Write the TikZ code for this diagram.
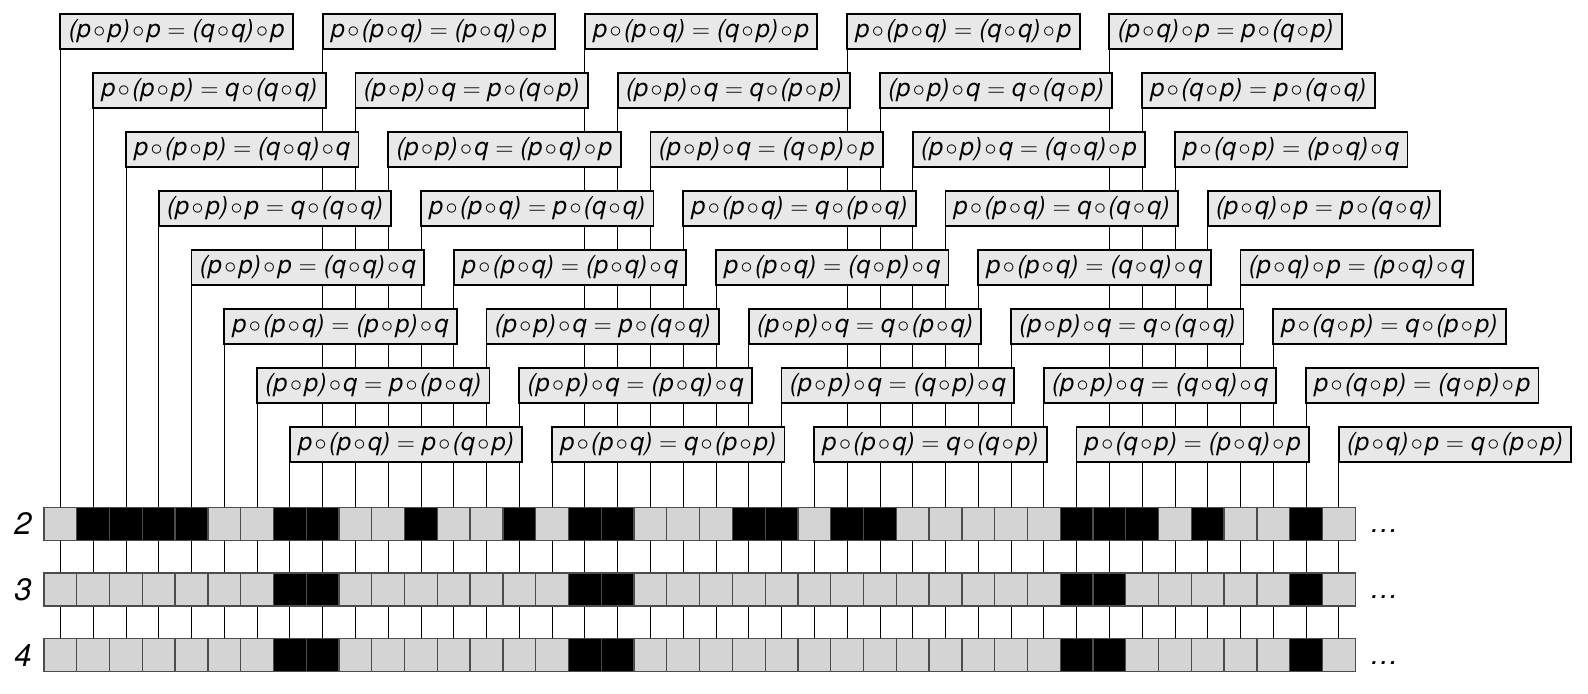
\documentclass[tikz,border=0pt]{standalone}
\usepackage{fontspec}
\setmainfont{TeX Gyre Heros}
\usetikzlibrary{backgrounds}
\tikzset{
  cellnode/.style={rectangle, draw=black!70, line width=0.65pt, minimum width=16.39pt, minimum height=16.5pt, inner sep=0pt, outer sep=0pt},
  lawnode/.style={rectangle, draw, line width=0.9pt, fill=black!9, anchor=north west, minimum height=17.5pt, inner xsep=4.2pt, inner ysep=0pt, outer sep=0pt, font=\fontsize{12.4}{14}\selectfont\itshape},
  rownode/.style={font=\fontsize{15.5}{18}\selectfont\itshape},
  dotsnode/.style={anchor=base west, inner sep=0pt, font=\fontsize{14}{16}\selectfont\itshape}
}
\newcommand{\comp}{\kern0.1em$\circ$\kern0.1em}
% 1 = black cell
\def\rowtwo{{0,1,1,1,1,0,0,1,1,0, 0,1,0,0,1,0,1,1,0,0, 0,1,1,0,1,1,0,0,0,0, 0,1,1,1,0,1,0,0,1,0}}
\def\rowthree{{0,0,0,0,0,0,0,1,1,0, 0,0,0,0,0,0,1,1,0,0, 0,0,0,0,0,0,0,0,0,0, 0,1,1,0,0,0,0,0,1,0}}

\begin{document}
\begin{tikzpicture}[x=0.5pt, y=-0.5pt]
\useasboundingbox (0,0) rectangle (1588,694);

% cells
\foreach \n/\y/\pat in {2/523.8/\rowtwo, 3/589.5/\rowthree, 4/655.2/\rowthree} {
  \node[rownode] (n\n) at (23,\y) {\n};
  \foreach \k in {0,...,39} {
    \pgfmathsetmacro\shade{17+83*\pat[\k]}
    \node[cellnode, fill=black!\shade] (r\n-\k) at ({60.39+32.78*\k},\y) {};
  }
  \node[dotsnode] (d\n) at (1370,{\y+9}) {\ldots};
}

% labels
\foreach \txt [count=\k from 0] in {
  {(p\comp p)\comp p $=$ (q\comp q)\comp p},
  {p\comp (p\comp p) $=$ q\comp (q\comp q)},
  {p\comp (p\comp p) $=$ (q\comp q)\comp q},
  {(p\comp p)\comp p $=$ q\comp (q\comp q)},
  {(p\comp p)\comp p $=$ (q\comp q)\comp q},
  {p\comp (p\comp q) $=$ (p\comp p)\comp q},
  {(p\comp p)\comp q $=$ p\comp (p\comp q)},
  {p\comp (p\comp q) $=$ p\comp (q\comp p)},
  {p\comp (p\comp q) $=$ (p\comp q)\comp p},
  {(p\comp p)\comp q $=$ p\comp (q\comp p)},
  {(p\comp p)\comp q $=$ (p\comp q)\comp p},
  {p\comp (p\comp q) $=$ p\comp (q\comp q)},
  {p\comp (p\comp q) $=$ (p\comp q)\comp q},
  {(p\comp p)\comp q $=$ p\comp (q\comp q)},
  {(p\comp p)\comp q $=$ (p\comp q)\comp q},
  {p\comp (p\comp q) $=$ q\comp (p\comp p)},
  {p\comp (p\comp q) $=$ (q\comp p)\comp p},
  {(p\comp p)\comp q $=$ q\comp (p\comp p)},
  {(p\comp p)\comp q $=$ (q\comp p)\comp p},
  {p\comp (p\comp q) $=$ q\comp (p\comp q)},
  {p\comp (p\comp q) $=$ (q\comp p)\comp q},
  {(p\comp p)\comp q $=$ q\comp (p\comp q)},
  {(p\comp p)\comp q $=$ (q\comp p)\comp q},
  {p\comp (p\comp q) $=$ q\comp (q\comp p)},
  {p\comp (p\comp q) $=$ (q\comp q)\comp p},
  {(p\comp p)\comp q $=$ q\comp (q\comp p)},
  {(p\comp p)\comp q $=$ (q\comp q)\comp p},
  {p\comp (p\comp q) $=$ q\comp (q\comp q)},
  {p\comp (p\comp q) $=$ (q\comp q)\comp q},
  {(p\comp p)\comp q $=$ q\comp (q\comp q)},
  {(p\comp p)\comp q $=$ (q\comp q)\comp q},
  {p\comp (q\comp p) $=$ (p\comp q)\comp p},
  {(p\comp q)\comp p $=$ p\comp (q\comp p)},
  {p\comp (q\comp p) $=$ p\comp (q\comp q)},
  {p\comp (q\comp p) $=$ (p\comp q)\comp q},
  {(p\comp q)\comp p $=$ p\comp (q\comp q)},
  {(p\comp q)\comp p $=$ (p\comp q)\comp q},
  {p\comp (q\comp p) $=$ q\comp (p\comp p)},
  {p\comp (q\comp p) $=$ (q\comp p)\comp p},
  {(p\comp q)\comp p $=$ q\comp (p\comp p)}} {
  \pgfmathtruncatemacro\lvl{mod(\k,8)}
  \node[lawnode] (law\k) at ({60.39+32.78*\k},{14+59*\lvl}) {\txt};
}

% edges
\begin{scope}[on background layer, line width=0.65pt]
  \foreach \k in {0,...,39} {
    \draw (law\k.south west) -- (r2-\k.north);
    \draw (r2-\k.south) -- (r3-\k.north);
    \draw (r3-\k.south) -- (r4-\k.north);
  }
\end{scope}

\end{tikzpicture}
\end{document}
